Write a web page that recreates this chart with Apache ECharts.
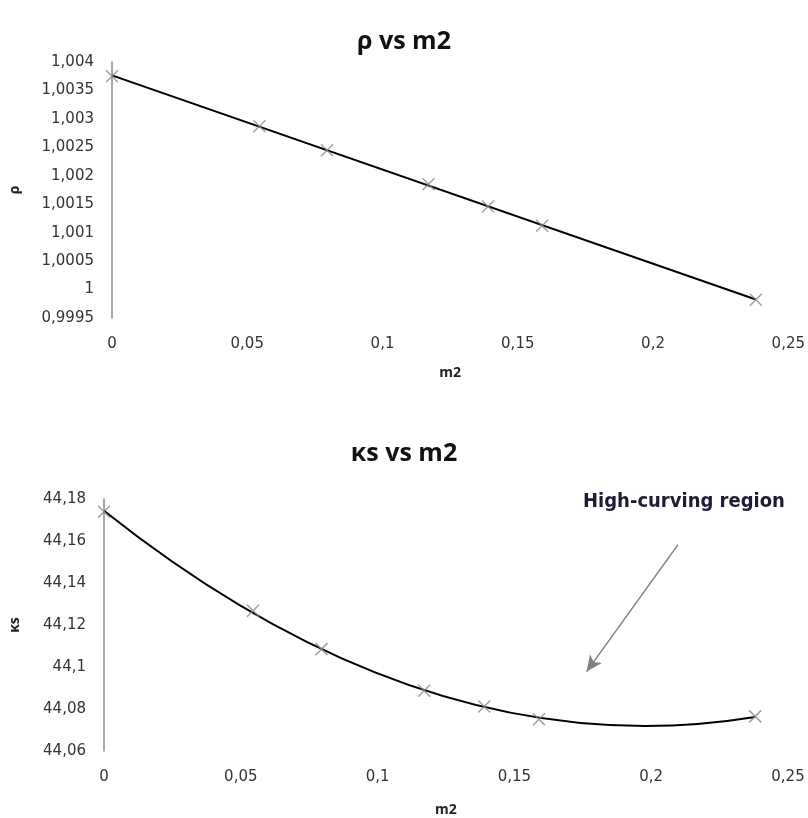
<!DOCTYPE html>
<html>
<head>
<meta charset="utf-8">
<script src="https://cdn.jsdelivr.net/npm/echarts@6/dist/echarts.min.js"></script>
<style>
  html, body { margin: 0; padding: 0; background: #fff; }
  #main { width: 808px; height: 818px; }
</style>
</head>
<body>
<div id="main"></div>
<script>
// values
var m2 = [0, 0.0545, 0.0795, 0.117, 0.139, 0.159, 0.238];
var rho = [1.00375, 1.00287, 1.00245, 1.00185, 1.00146, 1.00112, 0.99982];
var kappa = [44.1739, 44.1268, 44.1085, 44.0887, 44.0812, 44.0751, 44.0765];

// annotation arrow (data coords of bottom chart)
var arrowFrom = [0.2098, 44.1583];
var arrowTo = [0.1764, 44.0978];

var myChart = echarts.init(document.querySelector("#main"));

function pairs(xs, ys) {
	var out = [];
	for (var i = 0; i < xs.length; i++) {
		out.push([xs[i], ys[i]]);
	}
	return out;
}

// least squares polynomial fit (trendline), returns [a, b, c] for a + b x + c x^2
function polyFit(xs, ys, degree) {
	var n = degree + 1;
	var A = [], B = [];
	for (var j = 0; j < n; j++) {
		A.push(new Array(n).fill(0));
		B.push(0);
	}
	for (var i = 0; i < xs.length; i++) {
		for (var j = 0; j < n; j++) {
			for (var k = 0; k < n; k++) A[j][k] += Math.pow(xs[i], j + k);
			B[j] += ys[i] * Math.pow(xs[i], j);
		}
	}
	// gaussian elimination
	for (var p = 0; p < n; p++) {
		for (var r = p + 1; r < n; r++) {
			var f = A[r][p] / A[p][p];
			for (var k = p; k < n; k++) A[r][k] -= f * A[p][k];
			B[r] -= f * B[p];
		}
	}
	var coef = new Array(n).fill(0);
	for (var p = n - 1; p >= 0; p--) {
		var s = B[p];
		for (var k = p + 1; k < n; k++) s -= A[p][k] * coef[k];
		coef[p] = s / A[p][p];
	}
	while (coef.length < 3) coef.push(0);
	return coef;
}

// trendline drawn as one quadratic bezier through the axis scales
function trendSeries(idx, xs, ys, degree) {
	var c = polyFit(xs, ys, degree);
	var x0 = xs[0], x1 = xs[xs.length - 1];
	var f = function (x) { return c[0] + c[1] * x + c[2] * x * x; };
	var slope0 = c[1] + 2 * c[2] * x0;
	var ctrl = [(x0 + x1) / 2, f(x0) + slope0 * (x1 - x0) / 2];
	return {
		type: "custom",
		xAxisIndex: idx,
		yAxisIndex: idx,
		data: [[x0, f(x0)]],
		silent: true,
		z: 2,
		renderItem: function (params, api) {
			var p0 = api.coord([x0, f(x0)]);
			var pc = api.coord(ctrl);
			var p1 = api.coord([x1, f(x1)]);
			return {
				type: "path",
				shape: {
					pathData: "M" + p0[0] + "," + p0[1] + " Q" + pc[0] + "," + pc[1] + " " + p1[0] + "," + p1[1]
				},
				style: { fill: "none", stroke: "#000", lineWidth: 2 }
			};
		}
	};
}

function comma(digits) {
	return function (v) {
		return String(+v.toFixed(digits)).replace(".", ",");
	};
}

var labelFont = { fontFamily: "DejaVu Sans", fontSize: 15, color: "#333" };
var nameFont = { fontFamily: "Open Sans", fontSize: 14, fontWeight: "bold", color: "#222" };
var cross = "path://M0,0L10,10M10,0L0,10";

function xAxisFor(gridIndex, gap) {
	return {
		type: "value",
		gridIndex: gridIndex,
		min: 0,
		max: 0.25,
		interval: 0.05,
		name: "m2",
		nameLocation: "middle",
		nameGap: gap,
		nameTextStyle: nameFont,
		axisLine: { show: false },
		axisTick: { show: false },
		splitLine: { show: false },
		axisLabel: Object.assign({ margin: 19, formatter: comma(2) }, labelFont)
	};
}

function yAxisFor(gridIndex, name, min, max, interval, digits, gap) {
	return {
		type: "value",
		gridIndex: gridIndex,
		min: min,
		max: max,
		interval: interval,
		name: name,
		nameLocation: "middle",
		nameGap: gap,
		nameRotate: 90,
		nameTextStyle: nameFont,
		axisLine: { show: true, lineStyle: { color: "#8c8c8c", width: 1.5 } },
		axisTick: { show: false },
		splitLine: { show: false },
		axisLabel: Object.assign({ margin: 18, formatter: comma(digits) }, labelFont)
	};
}

function markerSeries(idx, data) {
	return {
		type: "scatter",
		xAxisIndex: idx,
		yAxisIndex: idx,
		data: data,
		symbol: cross,
		symbolSize: 12,
		itemStyle: { color: "rgba(0,0,0,0)", borderColor: "#8a8a8a", borderWidth: 1.5 },
		emphasis: { disabled: true },
		z: 3
	};
}

var option = {
	animation: false,
	title: [
		{
			text: "ρ vs m2",
			left: "center",
			top: 24,
			textStyle: { fontFamily: "Open Sans", fontSize: 25, fontWeight: "bold", color: "#111" }
		},
		{
			text: "κs vs m2",
			left: "center",
			top: 436,
			textStyle: { fontFamily: "Open Sans", fontSize: 25, fontWeight: "bold", color: "#111" }
		}
	],
	grid: [
		{ left: 108, right: 18, top: 62, height: 256 },
		{ left: 98, right: 20, top: 499, height: 254 }
	],
	xAxis: [xAxisFor(0, 48), xAxisFor(1, 52)],
	yAxis: [
		yAxisFor(0, "ρ", 0.9995, 1.004, 0.0005, 4, 90),
		yAxisFor(1, "κs", 44.06, 44.18, 0.02, 2, 82)
	],
	series: [
		trendSeries(0, m2, rho, 1),
		markerSeries(0, pairs(m2, rho)),
		trendSeries(1, m2, kappa, 2),
		Object.assign(markerSeries(1, pairs(m2, kappa)), {
			markLine: {
				silent: true,
				symbol: ["none", "arrow"],
				symbolSize: [11, 16],
				label: { show: false },
				lineStyle: { color: "#808080", width: 1.5, type: "solid" },
				data: [[{ coord: arrowFrom }, { coord: arrowTo }]]
			}
		})
	],
	graphic: [
		{
			type: "text",
			left: 583,
			top: 492,
			style: {
				text: "High-curving region",
				fontFamily: "DejaVu Sans Condensed",
				fontSize: 20,
				fontWeight: "bold",
				fill: "#1c1c38"
			}
		}
	]
};

myChart.setOption(option);
</script>
</body>
</html>
